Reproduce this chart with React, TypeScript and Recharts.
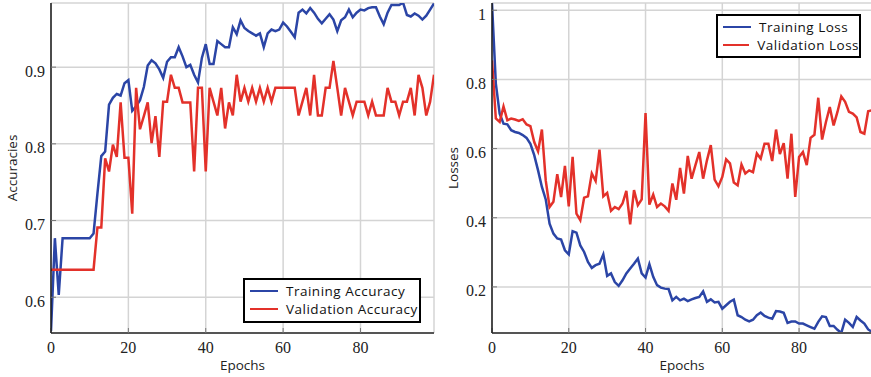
import { LineChart, Line, XAxis, YAxis, CartesianGrid, Legend, Label } from 'recharts'

// values, one per epoch (0..99)
const trainAccuracy = [
  0.556, 0.677, 0.603, 0.677, 0.677, 0.677, 0.677, 0.677, 0.677, 0.677,
  0.677, 0.683, 0.735, 0.784, 0.79, 0.851, 0.86, 0.865, 0.863, 0.879,
  0.883, 0.843, 0.849, 0.857, 0.874, 0.902, 0.909, 0.905, 0.897, 0.886,
  0.907, 0.913, 0.913, 0.926, 0.914, 0.9, 0.903, 0.89, 0.88, 0.912,
  0.93, 0.904, 0.904, 0.934, 0.93, 0.926, 0.926, 0.952, 0.943, 0.961,
  0.951, 0.947, 0.944, 0.941, 0.944, 0.926, 0.944, 0.949, 0.947, 0.949,
  0.958, 0.953, 0.946, 0.939, 0.971, 0.975, 0.97, 0.977, 0.971, 0.963,
  0.957, 0.963, 0.969, 0.962, 0.947, 0.961, 0.965, 0.975, 0.965, 0.971,
  0.975, 0.974, 0.977, 0.978, 0.978, 0.966, 0.956, 0.971, 0.981, 0.981,
  0.981, 0.984, 0.968, 0.966, 0.97, 0.967, 0.962, 0.967, 0.975, 0.983,
]

const valAccuracy = [
  0.636, 0.636, 0.636, 0.636, 0.636, 0.636, 0.636, 0.636, 0.636, 0.636,
  0.636, 0.636, 0.691, 0.691, 0.781, 0.764, 0.799, 0.783, 0.854, 0.782,
  0.782, 0.709, 0.873, 0.819, 0.836, 0.854, 0.801, 0.836, 0.783, 0.855,
  0.855, 0.89, 0.873, 0.873, 0.854, 0.854, 0.854, 0.764, 0.873, 0.873,
  0.764, 0.873, 0.855, 0.837, 0.873, 0.82, 0.854, 0.837, 0.89, 0.855,
  0.873, 0.855, 0.873, 0.855, 0.873, 0.855, 0.873, 0.855, 0.873, 0.873,
  0.873, 0.873, 0.873, 0.873, 0.837, 0.855, 0.873, 0.837, 0.89, 0.837,
  0.837, 0.873, 0.873, 0.908, 0.873, 0.837, 0.873, 0.855, 0.837, 0.855,
  0.855, 0.855, 0.837, 0.855, 0.837, 0.837, 0.837, 0.873, 0.855, 0.855,
  0.837, 0.855, 0.855, 0.873, 0.837, 0.89, 0.873, 0.837, 0.855, 0.89,
]

const trainLoss = [
  1.02, 0.788, 0.701, 0.672, 0.67, 0.653, 0.648, 0.645, 0.639, 0.631,
  0.614, 0.581, 0.537, 0.489, 0.453, 0.383, 0.354, 0.34, 0.337, 0.306,
  0.294, 0.361, 0.357, 0.32, 0.301, 0.272, 0.255, 0.263, 0.267, 0.294,
  0.232, 0.239, 0.214, 0.203, 0.219, 0.239, 0.253, 0.267, 0.282, 0.239,
  0.227, 0.266, 0.229, 0.205, 0.198, 0.195, 0.194, 0.161, 0.171, 0.161,
  0.166, 0.159, 0.164, 0.168, 0.171, 0.187, 0.157, 0.164, 0.155, 0.157,
  0.137, 0.147, 0.157, 0.163, 0.118, 0.113, 0.105, 0.1, 0.105, 0.118,
  0.126, 0.116, 0.111, 0.108, 0.13, 0.129, 0.125, 0.096, 0.1, 0.1,
  0.094, 0.094, 0.089, 0.084, 0.079, 0.099, 0.115, 0.113, 0.087, 0.087,
  0.076, 0.067, 0.105, 0.096, 0.084, 0.113, 0.103, 0.094, 0.077, 0.07,
]

const valLoss = [
  0.855, 0.687, 0.677, 0.722, 0.682, 0.687, 0.684, 0.68, 0.685, 0.67,
  0.665, 0.619, 0.592, 0.655, 0.508, 0.431, 0.446, 0.526, 0.46, 0.55,
  0.433, 0.576, 0.412, 0.393, 0.458, 0.462, 0.528, 0.506, 0.597, 0.462,
  0.472, 0.42, 0.431, 0.425, 0.441, 0.478, 0.381, 0.48, 0.436, 0.453,
  0.703, 0.438, 0.467, 0.431, 0.441, 0.433, 0.42, 0.499, 0.452, 0.544,
  0.47, 0.579, 0.513, 0.552, 0.59, 0.513, 0.566, 0.61, 0.51, 0.491,
  0.518, 0.569, 0.557, 0.502, 0.494, 0.554, 0.528, 0.537, 0.532, 0.586,
  0.571, 0.614, 0.614, 0.564, 0.655, 0.584, 0.616, 0.513, 0.643, 0.46,
  0.576, 0.59, 0.552, 0.631, 0.64, 0.747, 0.626, 0.677, 0.72, 0.667,
  0.706, 0.751, 0.735, 0.706, 0.701, 0.69, 0.648, 0.643, 0.708, 0.711,
]

const epochTicks = [0, 20, 40, 60, 80]
const accTicks = [0.6, 0.7, 0.8, 0.9]
const lossTicks = [0.2, 0.4, 0.6, 0.8, 1]

const epochs = trainAccuracy.map((_, i) => i)
const accData = epochs.map((epoch, i) => ({ epoch, train: trainAccuracy[i], val: valAccuracy[i] }))
const lossData = epochs.map((epoch, i) => ({ epoch, train: trainLoss[i], val: valLoss[i] }))

const BLUE = '#2b45a6'
const RED = '#e3312a'
const SERIF = '"Liberation Serif", "DejaVu Serif", serif'
const SANS = '"Open Sans", "DejaVu Sans", sans-serif'

const YTick = ({ x, y, payload }: any) => (
  <text x={x} y={y + 9.5} textAnchor='end' fontFamily={SERIF} fontSize={16} fill='#222'>
    {String(payload.value)}
  </text>
)

const XTick = ({ x, y, payload }: any) => (
  <text x={x} y={y + 19.5} textAnchor='middle' fontFamily={SERIF} fontSize={16} fill='#222'>
    {String(payload.value)}
  </text>
)

const xLabel = (text: string) => ({ viewBox }: any) => (
  <text
    x={viewBox.x + viewBox.width / 2}
    y={viewBox.y + 37}
    textAnchor='middle'
    fontFamily={SANS}
    fontSize={13.5}
    fill='#222'
  >
    {text}
  </text>
)

const yLabel = (text: string) => ({ viewBox }: any) => {
  const cx = viewBox.x + 16.5
  const cy = viewBox.y + viewBox.height / 2
  return (
    <text
      x={cx}
      y={cy}
      transform={`rotate(-90, ${cx}, ${cy})`}
      textAnchor='middle'
      fontFamily={SANS}
      fontSize={13.5}
      fill='#222'
    >
      {text}
    </text>
  )
}

const BoxLegend = ({ payload }: any) => (
  <div
    style={{
      boxSizing: 'border-box',
      width: '100%',
      height: '100%',
      border: '2px solid #000',
      background: '#fff',
      padding: '2px 0 0 5px',
      fontFamily: SANS,
      fontSize: 13.5,
      letterSpacing: 0.5,
      color: '#111',
    }}
  >
    {(payload || []).map((p: any) => (
      <div key={p.value} style={{ display: 'flex', alignItems: 'center', height: 18, whiteSpace: 'nowrap' }}>
        <span style={{ display: 'inline-block', width: 28, borderTop: `2.5px solid ${p.color}` }} />
        <span style={{ marginLeft: 8 }}>{p.value}</span>
      </div>
    ))}
  </div>
)

interface PanelProps {
  data: { epoch: number; train: number; val: number }[]
  yDomain: [number, number]
  yTicks: number[]
  yTitle: string
  names: [string, string]
  legendBox: { left: number; top: number; width: number; height: number }
  width: number
  rightMargin: number
}

function Panel({ data, yDomain, yTicks, yTitle, names, legendBox, width, rightMargin }: PanelProps) {
  return (
    <LineChart width={width} height={377} data={data} margin={{ top: 3, right: rightMargin, bottom: 0, left: 0 }}>
      <CartesianGrid stroke='#d4d4d4' strokeWidth={1.5} />
      <XAxis
        dataKey='epoch'
        type='number'
        domain={[0, 99]}
        ticks={epochTicks}
        interval={0}
        allowDataOverflow
        height={44}
        tickSize={-5}
        tickMargin={5}
        tickLine={{ stroke: '#777' }}
        axisLine={{ stroke: '#555', strokeWidth: 2 }}
        tick={XTick}
      >
        <Label content={xLabel('Epochs')} />
      </XAxis>
      <XAxis
        xAxisId='top'
        orientation='top'
        type='number'
        domain={[0, 99]}
        ticks={epochTicks}
        allowDataOverflow
        height={0}
        tickSize={-5}
        tickLine={{ stroke: '#777' }}
        axisLine={{ stroke: '#000', strokeWidth: 1.5 }}
        tick={false}
      />
      <YAxis
        type='number'
        domain={yDomain}
        ticks={yTicks}
        interval={0}
        allowDataOverflow
        width={51}
        tickSize={-5}
        tickMargin={11}
        tickLine={{ stroke: '#777' }}
        axisLine={{ stroke: '#1a1a1a', strokeWidth: 1.5 }}
        tick={YTick}
      >
        <Label content={yLabel(yTitle)} />
      </YAxis>
      <YAxis
        yAxisId='right'
        orientation='right'
        type='number'
        domain={yDomain}
        ticks={yTicks}
        allowDataOverflow
        width={0}
        tickSize={-5}
        tickLine={{ stroke: '#777' }}
        axisLine={{ stroke: '#000', strokeWidth: 1.5 }}
        tick={false}
      />
      <Legend
        layout='horizontal'
        verticalAlign='middle'
        align='center'
        width={legendBox.width}
        height={legendBox.height}
        wrapperStyle={{ ...legendBox }}
        content={BoxLegend}
      />
      <Line
        type='linear'
        dataKey='train'
        name={names[0]}
        stroke={BLUE}
        strokeWidth={2.5}
        dot={false}
        activeDot={false}
        isAnimationActive={false}
      />
      <Line
        type='linear'
        dataKey='val'
        name={names[1]}
        stroke={RED}
        strokeWidth={2.5}
        dot={false}
        activeDot={false}
        isAnimationActive={false}
      />
    </LineChart>
  )
}

export default function App() {
  return (
    <div
      style={{
        position: 'absolute',
        left: 0,
        top: 0,
        width: 871,
        height: 377,
        overflow: 'hidden',
        background: '#fff',
      }}
    >
      <div style={{ position: 'absolute', left: 0, top: 0 }}>
        <Panel
          data={accData}
          yDomain={[0.5534, 0.9836]}
          yTicks={accTicks}
          yTitle='Accuracies'
          names={['Training Accuracy', 'Validation Accuracy']}
          legendBox={{ left: 243, top: 278, width: 178, height: 45 }}
          width={440}
          rightMargin={6}
        />
      </div>
      <div style={{ position: 'absolute', left: 441, top: 0 }}>
        <Panel
          data={lossData}
          yDomain={[0.0667, 1.021]}
          yTicks={lossTicks}
          yTitle='Losses'
          names={['Training Loss', 'Validation Loss']}
          legendBox={{ left: 275, top: 14, width: 145, height: 44 }}
          width={440}
          rightMargin={9}
        />
      </div>
    </div>
  )
}
